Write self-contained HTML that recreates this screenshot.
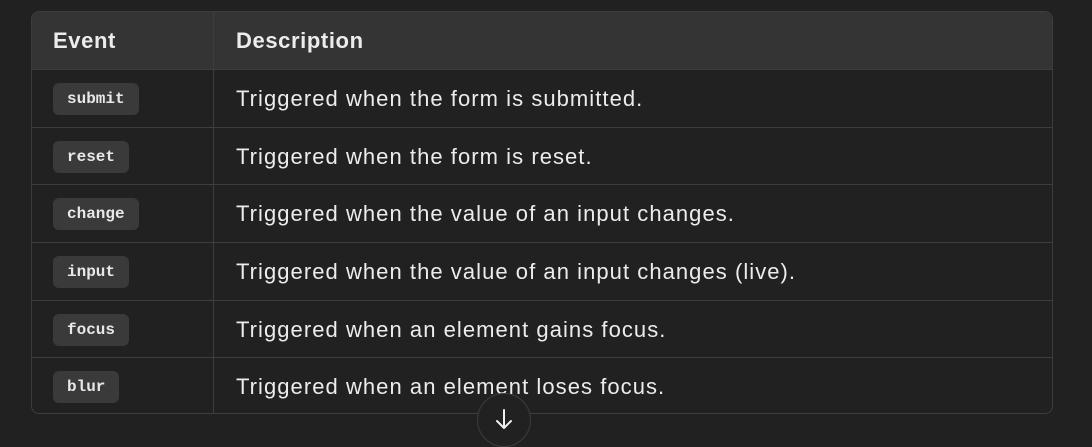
<!DOCTYPE html>
<html><head><style>
body{margin:0;background:#212121;width:1092px;height:434px;overflow:hidden;font-family:"Liberation Sans",sans-serif;color:#ececec;position:relative}
.t{position:absolute;left:31px;top:11px;width:1020px;height:401px;border:1px solid #3d3d3d;border-radius:8px;overflow:hidden}
.r{position:absolute;left:0;width:1020px;height:57px;border-top:1px solid #3d3d3d}
.h{background:#343434;border-top:none;height:57px;top:0}
.c1{position:absolute;left:21px;top:0;height:100%;display:flex;align-items:center}
.c2{position:absolute;left:204px;top:0;height:100%;display:flex;align-items:center;font-size:22px;letter-spacing:1.05px;white-space:nowrap}
.d{position:absolute;left:181px;top:0;width:1px;height:100%;background:#3d3d3d}
.h .c1,.h .c2{font-weight:bold;font-size:22px;letter-spacing:0.6px}
code{font-family:"Liberation Mono",monospace;font-weight:bold;font-size:16px;background:#3a3a3a;border-radius:6px;padding:0 14px;height:32px;line-height:32px;display:inline-block;color:#e8e8e8}
.btn{position:absolute;left:477px;top:393px;width:54px;height:54px;border-radius:50%;background:#212121;border:1px solid #3d3d3d;box-sizing:border-box}
</style></head><body>
<div class="t">
<div class="r h"><div class="c1">Event</div><div class="d"></div><div class="c2">Description</div></div>
<div class="r" style="top:57px"><div class="c1"><code>submit</code></div><div class="d"></div><div class="c2">Triggered when the form is submitted.</div></div>
<div class="r" style="top:115px"><div class="c1"><code>reset</code></div><div class="d"></div><div class="c2">Triggered when the form is reset.</div></div>
<div class="r" style="top:172px"><div class="c1"><code>change</code></div><div class="d"></div><div class="c2">Triggered when the value of an input changes.</div></div>
<div class="r" style="top:230px"><div class="c1"><code>input</code></div><div class="d"></div><div class="c2">Triggered when the value of an input changes (live).</div></div>
<div class="r" style="top:288px"><div class="c1"><code>focus</code></div><div class="d"></div><div class="c2">Triggered when an element gains focus.</div></div>
<div class="r" style="top:345px"><div class="c1"><code>blur</code></div><div class="d"></div><div class="c2">Triggered when an element loses focus.</div></div>
</div>
<div class="btn"><svg width="54" height="54" style="position:absolute;left:-1px;top:-1px"><path d="M27 17V35M20 28L27 35L34 28" stroke="#eee" stroke-width="2" fill="none" stroke-linecap="round" stroke-linejoin="round"/></svg></div>
</body></html>
